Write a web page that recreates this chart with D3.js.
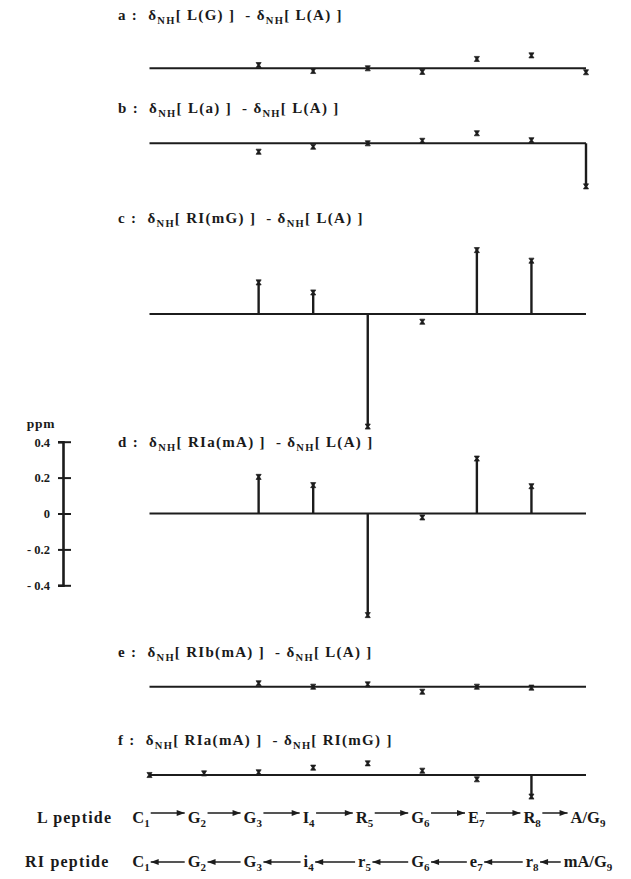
<!DOCTYPE html>
<html><head><meta charset="utf-8">
<script src="https://cdn.jsdelivr.net/npm/d3@7"></script>
<style>
html,body{margin:0;padding:0;background:#fff;}
svg{display:block;}
text{font-family:"Liberation Serif","Times New Roman",serif;font-weight:bold;fill:#1a1a1a;white-space:pre;}
</style></head><body>
<svg id="chart" width="631" height="879"></svg>
<script>
// ---------- data ----------
const residues = [1, 2, 3, 4, 5, 6, 7, 8, 9];
const panelLetters = ['a', 'b', 'c', 'd', 'e', 'f'];
const minuendLabels = ['L(G)', 'L(a)', 'RI(mG)', 'RIa(mA)', 'RIb(mA)', 'RIa(mA)'];
const subtrahendLabels = ['L(A)', 'L(A)', 'L(A)', 'L(A)', 'L(A)', 'RI(mG)'];
// Δδ_NH (ppm) per residue 1..9 (null = not shown)
const seriesA = [null, null, 0.018, -0.015, 0.0, -0.02, 0.052, 0.072, -0.022];
const seriesB = [null, null, -0.047, -0.019, 0.0, 0.014, 0.056, 0.017, -0.24];
const seriesC = [null, null, 0.176, 0.12, -0.627, -0.043, 0.356, 0.297, null];
const seriesD = [null, null, 0.204, 0.158, -0.566, -0.022, 0.306, 0.152, null];
const seriesE = [null, null, 0.019, 0.0, 0.013, -0.028, 0.0, -0.005, null];
const seriesF = [0.0, 0.009, 0.015, 0.041, 0.065, 0.024, -0.024, -0.12, null];
const ppmTicks = [0.4, 0.2, 0, -0.2, -0.4];
const axisTitle = 'ppm';
const lPeptideNames = ['C', 'G', 'G', 'I', 'R', 'G', 'E', 'R', 'A/G'];
const riPeptideNames = ['C', 'G', 'G', 'i', 'r', 'G', 'e', 'r', 'mA/G'];
const rowLabels = ['L peptide', 'RI peptide'];

const allSeries = [seriesA, seriesB, seriesC, seriesD, seriesE, seriesF];

// ---------- layout ----------
const ink = '#1c1c1c';
const svg = d3.select('#chart');
const x = d3.scaleLinear().domain([1, 9]).range([149.5, 586]);
const pxPerPpm = 179.5;
const baseY = [68.3, 143.3, 314, 513.5, 686.7, 775];
const titleY = [20, 113, 223, 447, 657, 745];
const stickThreshold = 0.1;

const hourglass = {
  draw(ctx, size) {
    const s = Math.sqrt(size) / 2;
    ctx.moveTo(-s, -s); ctx.lineTo(s, -s); ctx.lineTo(s * 0.35, 0); ctx.lineTo(s, s);
    ctx.lineTo(-s, s); ctx.lineTo(-s * 0.35, 0); ctx.closePath();
  }
};
const sym = d3.symbol().type(hourglass).size(26);

allSeries.forEach((vals, i) => {
  const y = d3.scaleLinear().domain([0, 1]).range([baseY[i], baseY[i] - pxPerPpm]);
  const g = svg.append('g');
  const pts = residues.map((r, k) => ({ r, v: vals[k] })).filter(d => d.v !== null);

  g.append('line')
    .attr('x1', x(1)).attr('x2', x(9))
    .attr('y1', y(0)).attr('y2', y(0))
    .attr('stroke', ink).attr('stroke-width', 1.9);

  g.selectAll('line.stick').data(pts.filter(d => Math.abs(d.v) >= stickThreshold)).join('line')
    .attr('class', 'stick')
    .attr('x1', d => x(d.r)).attr('x2', d => x(d.r))
    .attr('y1', y(0)).attr('y2', d => y(d.v))
    .attr('stroke', ink).attr('stroke-width', 2.4);

  g.selectAll('path.mk').data(pts).join('path')
    .attr('class', 'mk')
    .attr('transform', d => `translate(${x(d.r)},${y(d.v)})`)
    .attr('d', sym)
    .attr('fill', ink).attr('stroke', ink).attr('stroke-width', 0.7);

  // title
  const t = svg.append('text').attr('x', 118).attr('y', titleY[i])
    .attr('font-size', 15).style('letter-spacing', '1.3px');
  t.append('tspan').text(`${panelLetters[i]} :  δ`);
  t.append('tspan').attr('font-size', 10.5).attr('dy', 4).text('NH');
  t.append('tspan').attr('dy', -4).text(`[ ${minuendLabels[i]} ]  - δ`);
  t.append('tspan').attr('font-size', 10.5).attr('dy', 4).text('NH');
  t.append('tspan').attr('dy', -4).text(`[ ${subtrahendLabels[i]} ]`);
});

// ---------- ppm axis ----------
const yAx = d3.scaleLinear().domain([-0.4, 0.4])
  .range([baseY[3] + 0.4 * pxPerPpm, baseY[3] - 0.4 * pxPerPpm]);
const fmt = d3.format('.1f');
const axG = svg.append('g').attr('transform', 'translate(63,0)')
  .call(d3.axisLeft(yAx).tickValues(ppmTicks).tickSizeOuter(0).tickSize(5)
    .tickFormat(d => d < 0 ? '- ' + fmt(-d) : (d === 0 ? '0' : fmt(d))));
axG.select('.domain').attr('stroke', ink).attr('stroke-width', 2.6);
axG.selectAll('.tick line').attr('x1', -5).attr('x2', 8).attr('stroke', ink).attr('stroke-width', 2);
axG.selectAll('.tick text').attr('x', -13).attr('dy', '0.35em')
  .style('font-family', '"Liberation Serif","Times New Roman",serif')
  .style('font-weight', 'bold').style('font-size', '12.5px').attr('fill', ink);
svg.append('text').attr('x', 41).attr('y', 428).attr('text-anchor', 'middle')
  .attr('font-size', 13.5).style('letter-spacing', '0.8px').text(axisTitle);

// ---------- peptide rows ----------
const seqX = d3.scaleLinear().domain([1, 9]).range([141, 588]);
function peptideRow(names, label, baseline, dir, labelX) {
  svg.append('text').attr('x', labelX).attr('y', baseline)
    .attr('font-size', 16).style('letter-spacing', '1.2px').text(label);
  const nodes = [];
  names.forEach((n, k) => {
    const t = svg.append('text').attr('x', seqX(residues[k])).attr('y', baseline)
      .attr('text-anchor', 'middle').attr('font-size', 16.5);
    t.append('tspan').text(n);
    t.append('tspan').attr('font-size', 11).attr('dy', 4).text(residues[k]);
    nodes.push(t.node().getBBox());
  });
  const ay = dir > 0 ? baseline - 10 : baseline - 5;
  for (let k = 0; k < nodes.length - 1; k++) {
    const x0 = nodes[k].x + nodes[k].width + 1;
    const x1 = nodes[k + 1].x - 3;
    svg.append('line').attr('x1', x0).attr('x2', x1).attr('y1', ay).attr('y2', ay)
      .attr('stroke', ink).attr('stroke-width', 1.5);
    const tip = dir > 0 ? x1 : x0;
    const back = dir > 0 ? tip - 8 : tip + 8;
    svg.append('path').attr('d', `M${tip},${ay}L${back},${ay - 3}L${back},${ay + 3}Z`).attr('fill', ink);
  }
}
peptideRow(lPeptideNames, rowLabels[0], 823, 1, 37);
peptideRow(riPeptideNames, rowLabels[1], 867, -1, 25);
</script>
</body></html>
